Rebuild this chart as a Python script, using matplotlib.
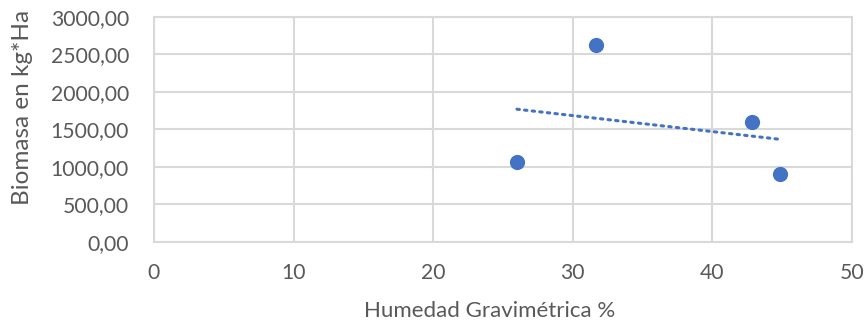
import numpy as np
import matplotlib
matplotlib.use("Agg")
import matplotlib.pyplot as plt

# Humedad gravimetrica (%) vs biomasa (kg*Ha)
humedad = [26.0, 31.66, 42.84, 44.84]
biomasa = [1067, 2627, 1600, 907]

x_ticks = [0, 10, 20, 30, 40, 50]
y_ticks = [0, 500, 1000, 1500, 2000, 2500, 3000]

plt.rcParams['font.family'] = ['Lato', 'DejaVu Sans']
gris = '#595959'
azul = '#4472C4'

fig = plt.figure(figsize=(8.67, 3.25), dpi=100)
ax = fig.add_axes([0.1776, 0.2554, 0.8051, 0.6923])

ax.scatter(humedad, biomasa, s=120, color=azul, zorder=3, linewidths=0)

# linea de tendencia lineal
m, b = np.polyfit(humedad, biomasa, 1)
xt = np.array([min(humedad), max(humedad)])
ax.plot(xt, m * xt + b, color=azul, lw=2.2, linestyle=(0, (0.8, 1.7)),
        dash_capstyle='round', zorder=2)

ax.set_xlim(0, 50)
ax.set_ylim(0, 3000)
ax.set_xticks(x_ticks)
ax.set_yticks(y_ticks)
ax.set_yticklabels([f"{v},00" for v in y_ticks])
ax.grid(True, color='#D9D9D9', lw=1.5)
ax.set_axisbelow(True)
for s in ax.spines.values():
    s.set_color('#D9D9D9')
    s.set_linewidth(1.5)
ax.tick_params(length=0, labelsize=15.2, colors=gris)
ax.tick_params(axis='y', pad=18)
ax.tick_params(axis='x', pad=15)

ax.set_xlabel("Humedad Gravimétrica %", fontsize=16, color=gris, va='center')
ax.xaxis.set_label_coords(0.481, -0.307)
ax.set_ylabel("Biomasa en kg*Ha", fontsize=17.5, color=gris, va='center')
ax.yaxis.set_label_coords(-0.189, 0.596)

fig.savefig("out.png", dpi=100)
